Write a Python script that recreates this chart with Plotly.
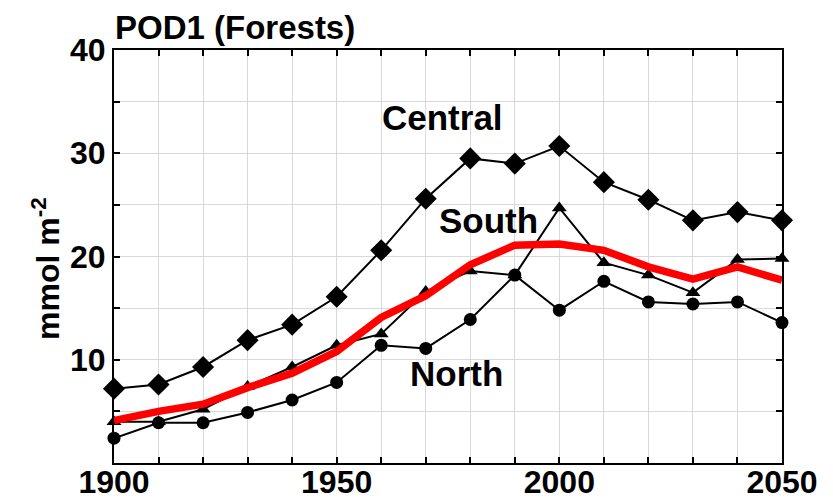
import plotly.graph_objects as go

years = [1900, 1910, 1920, 1930, 1940, 1950, 1960, 1970, 1980, 1990, 2000, 2010, 2020, 2030, 2040, 2050]
central = [7.2, 7.6, 9.3, 11.9, 13.4, 16.1, 20.6, 25.6, 29.5, 29.0, 30.7, 27.2, 25.5, 23.5, 24.3, 23.5]
south = [4.0, 4.0, 5.2, 7.4, 9.3, 11.4, 12.5, 16.6, 18.6, 18.2, 24.7, 19.4, 18.2, 16.5, 19.7, 19.8]
north = [2.4, 3.9, 3.9, 4.9, 6.1, 7.8, 11.4, 11.1, 13.9, 18.2, 14.8, 17.6, 15.6, 15.4, 15.6, 13.6]
mean = [4.1, 5.0, 5.7, 7.3, 8.7, 10.8, 14.1, 16.2, 19.2, 21.1, 21.2, 20.6, 19.0, 17.8, 19.0, 17.7]

xticks = [1900, 1950, 2000, 2050]
yticks = [10, 20, 30, 40]

FONT = "Liberation Sans, Arial, sans-serif"

fig = go.Figure()
fig.add_trace(go.Scatter(x=years, y=central, mode="lines+markers",
                         line=dict(color="black", width=2), cliponaxis=False,
                         marker=dict(symbol="diamond", size=17, color="black"),
                         name="Central"))
fig.add_trace(go.Scatter(x=years, y=south, mode="lines+markers",
                         line=dict(color="black", width=2), cliponaxis=False,
                         marker=dict(symbol="triangle-up", size=13, color="black"),
                         name="South"))
fig.add_trace(go.Scatter(x=years, y=north, mode="lines+markers",
                         line=dict(color="black", width=2), cliponaxis=False,
                         marker=dict(symbol="circle", size=13, color="black"),
                         name="North"))
fig.add_trace(go.Scatter(x=years, y=mean, mode="lines",
                         line=dict(color="#ff0000", width=7.5),
                         name="Mean"))

for txt, x, y in [("Central", 1973.7, 33.5), ("South", 1984.0, 23.5), ("North", 1976.8, 8.7)]:
    fig.add_annotation(x=x, y=y, text="<b>%s</b>" % txt, showarrow=False,
                       font=dict(family=FONT, size=35, color="black"))

fig.add_annotation(xref="paper", yref="paper", x=0.0, y=1.0, xanchor="left", yanchor="bottom",
                   yshift=3, borderpad=0, text="<b>POD1 (Forests)</b>", showarrow=False,
                   font=dict(family=FONT, size=33, color="black"))

fig.add_annotation(xref="paper", yref="paper", x=-0.102, y=0.472, xanchor="center", yanchor="middle",
                   textangle=-90, text="<b>mmol m<sup>-2</sup></b>", showarrow=False,
                   font=dict(family=FONT, size=32, color="black"))

fig.update_xaxes(range=[1900, 2050], tickvals=xticks, ticks="inside", ticklen=6,
                 tickcolor="black", tickwidth=1.5, automargin=False, ticklabelstandoff=-10,
                 showline=True, linecolor="black", linewidth=2, mirror="ticks",
                 showgrid=True, gridcolor="#d9d9d9", gridwidth=1,
                 minor=dict(dtick=10, tick0=1900, ticks="inside", ticklen=6, tickcolor="black",
                            showgrid=True, gridcolor="#d9d9d9", gridwidth=1),
                 tickfont=dict(family=FONT, size=32, color="black", weight="bold"), zeroline=False)
fig.update_yaxes(range=[0, 40], tickvals=yticks, ticks="inside", ticklen=6,
                 tickcolor="black", tickwidth=1.5, automargin=False,
                 showline=True, linecolor="black", linewidth=2, mirror="ticks",
                 showgrid=True, gridcolor="#d9d9d9", gridwidth=1,
                 minor=dict(dtick=5, tick0=0, ticks="inside", ticklen=6, tickcolor="black",
                            showgrid=True, gridcolor="#d9d9d9", gridwidth=1),
                 tickfont=dict(family=FONT, size=32, color="black", weight="bold"), zeroline=False)

fig.update_layout(width=825, height=491, margin=dict(l=106, r=51, t=42, b=36),
                  plot_bgcolor="white", paper_bgcolor="white", showlegend=False)

fig.write_html("out.html")
